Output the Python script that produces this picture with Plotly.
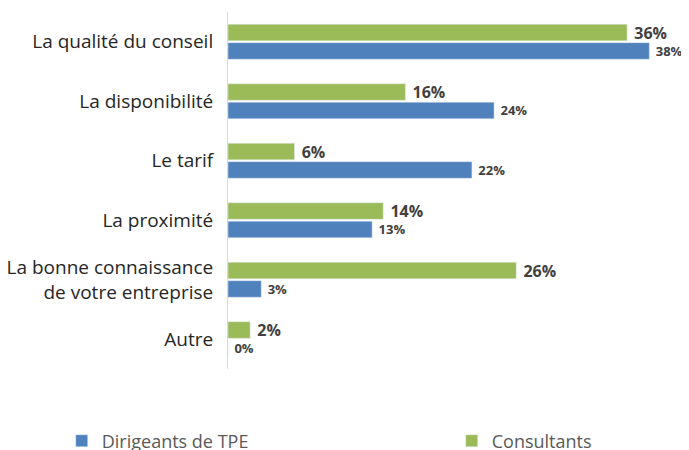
import plotly.graph_objects as go

categories = [
    "La qualité du conseil",
    "La disponibilité",
    "Le tarif",
    "La proximité",
    "La bonne connaissance<br>de votre entreprise",
    "Autre",
]
dirigeants = [38, 24, 22, 13, 3, 0]
consultants = [36, 16, 6, 14, 26, 2]

BLUE = "#4f81bd"
GREEN = "#9bbb59"
FONT = "Open Sans"

fig = go.Figure()
fig.add_trace(go.Bar(
    y=categories, x=consultants, orientation="h", name="Consultants",
    marker_color=GREEN, legend="legend2",
    text=[f" {v}%" for v in consultants], textposition="outside",
    constraintext="none",
    textfont=dict(family=FONT, size=16, color="#404040", weight="bold"),
    cliponaxis=False,
))
fig.add_trace(go.Bar(
    y=categories, x=dirigeants, orientation="h", name="Dirigeants de TPE",
    marker_color=BLUE, legend="legend",
    text=[f" {v}%" for v in dirigeants], textposition="outside",
    constraintext="none",
    textfont=dict(family=FONT, size=13, color="#404040", weight="bold"),
    cliponaxis=False,
))

legend_font = dict(size=18, color="#595959")
fig.update_layout(
    width=689, height=450,
    margin=dict(l=220, r=0, t=4, b=89, autoexpand=False),
    barmode="group", bargap=0.38, bargroupgap=0.1,
    plot_bgcolor="white", paper_bgcolor="white",
    font=dict(family=FONT, color="#262626"),
    showlegend=True,
    legend=dict(orientation="h", xref="container", x=0.078, xanchor="left",
                y=-0.15, yanchor="top", font=legend_font),
    legend2=dict(orientation="h", xref="container", x=0.644, xanchor="left",
                 y=-0.15, yanchor="top", font=legend_font),
)
fig.update_xaxes(range=[0, 42.3], visible=False)
fig.update_yaxes(
    autorange="reversed", showline=True, linecolor="#d9d9d9", linewidth=1,
    ticks="", ticklabelstandoff=10, tickfont=dict(size=19, color="#262626"),
    showgrid=False, automargin=False,
)

fig.write_html("out.html")
